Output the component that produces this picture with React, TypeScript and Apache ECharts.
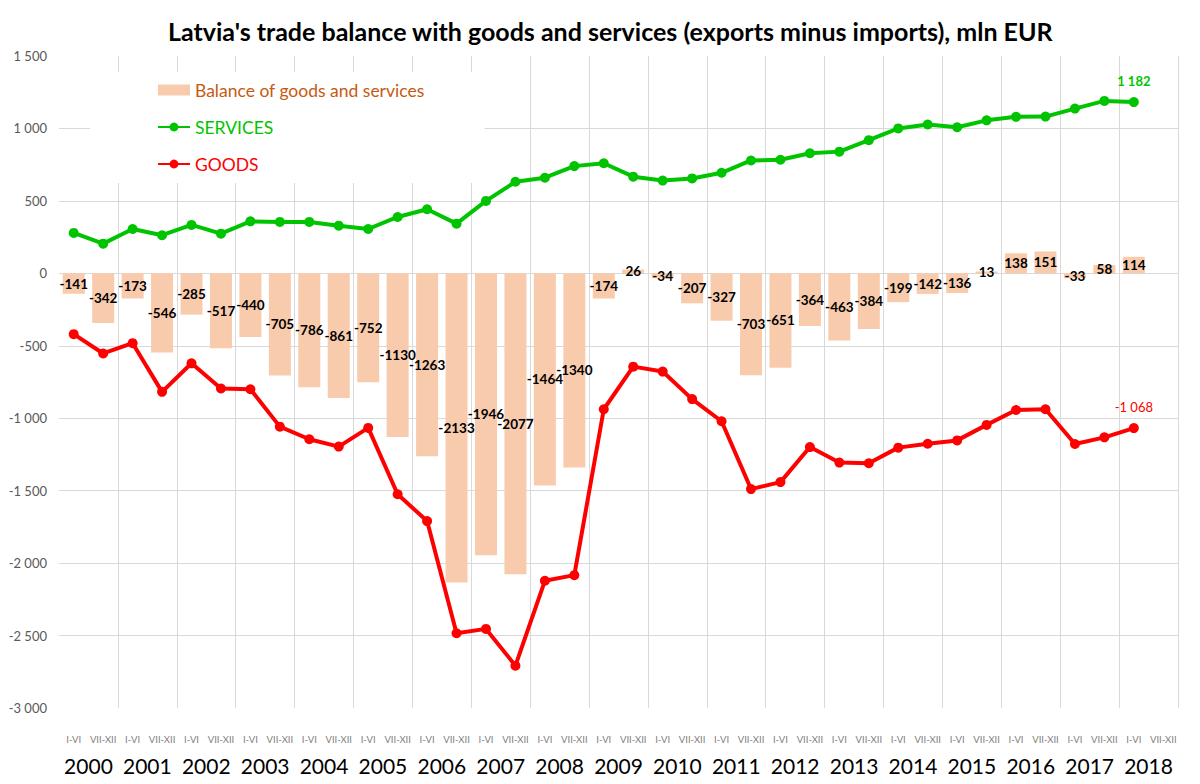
import React, { useEffect, useRef } from "react";
import * as echarts from "echarts";

const halfYears = [
  "I-VI", "VII-XII", "I-VI", "VII-XII", "I-VI", "VII-XII", "I-VI", "VII-XII",
  "I-VI", "VII-XII", "I-VI", "VII-XII", "I-VI", "VII-XII", "I-VI", "VII-XII",
  "I-VI", "VII-XII", "I-VI", "VII-XII", "I-VI", "VII-XII", "I-VI", "VII-XII",
  "I-VI", "VII-XII", "I-VI", "VII-XII", "I-VI", "VII-XII", "I-VI", "VII-XII",
  "I-VI", "VII-XII", "I-VI", "VII-XII", "I-VI", "VII-XII",
];

const years = [
  "2000", "2001", "2002", "2003", "2004", "2005", "2006", "2007", "2008", "2009",
  "2010", "2011", "2012", "2013", "2014", "2015", "2016", "2017", "2018",
];

const balance = [
  -141, -342, -173, -546, -285, -517, -440, -705, -786, -861,
  -752, -1130, -1263, -2133, -1946, -2077, -1464, -1340, -174, 26,
  -34, -207, -327, -703, -651, -364, -463, -384, -199, -142,
  -136, 13, 138, 151, -33, 58, 114,
];

const services = [
  279, 205, 306, 263, 334, 274, 359, 355, 355, 329,
  306, 389, 442, 343, 500, 632, 660, 740, 760, 667,
  640, 655, 694, 779, 784, 829, 840, 919, 1000, 1027,
  1008, 1056, 1080, 1082, 1137, 1190, 1182,
];

const goods = [
  -420, -553, -482, -818, -621, -795, -800, -1058, -1145, -1196,
  -1067, -1525, -1710, -2484, -2454, -2708, -2122, -2083, -938, -644,
  -678, -868, -1021, -1489, -1441, -1199, -1306, -1311, -1203, -1176,
  -1153, -1046, -943, -938, -1178, -1132, -1068,
];

const FONT = "Lato, 'Noto Sans', sans-serif";
const GREEN = "#00C400";
const RED = "#FF0000";
const BAR = "#F8CBAD";
const GRID = "#D9D9D9";

const fmt = (v: number) => String(v).replace(/\B(?=(\d{3})+(?!\d))/g, " ");

export default function App() {
  const ref = useRef<HTMLDivElement>(null);

  useEffect(() => {
    if (!ref.current) return;
    const chart = echarts.init(ref.current, null, { renderer: "svg" });

    const lastS = services.length - 1;
    const lastG = goods.length - 1;

    const ySplitColors = ["rgba(0,0,0,0)", GRID, GRID, GRID, GRID, GRID, GRID, GRID, GRID, "rgba(0,0,0,0)"];
    const xSplitColors = ["rgba(0,0,0,0)"].concat(new Array(years.length).fill(GRID));

    chart.setOption({
      animation: false,
      backgroundColor: "#ffffff",
      textStyle: { fontFamily: FONT },
      title: {
        text: "Latvia's trade balance with goods and services (exports minus imports), mln EUR",
        left: 163,
        top: 13,
        textStyle: { fontFamily: FONT, fontSize: 25, fontWeight: "bold", color: "#000000" },
      },
      legend: {
        orient: "vertical",
        left: 90,
        top: 72,
        padding: [9, 60, 10, 67],
        backgroundColor: "#ffffff",
        itemWidth: 32,
        itemHeight: 11,
        itemGap: 19,
        textStyle: { fontFamily: FONT, fontSize: 17.5, lineHeight: 18 },
        data: [
          { name: "Balance of goods and services", icon: "rect", textStyle: { color: "#C55A11" } },
          { name: "SERVICES", textStyle: { color: GREEN } },
          { name: "GOODS", textStyle: { color: RED } },
        ],
      },
      grid: { left: 59, right: 22, top: 56, bottom: 76, containLabel: false },
      xAxis: [
        {
          type: "category",
          data: halfYears,
          boundaryGap: true,
          position: "bottom",
          axisLine: { show: false },
          axisTick: { show: false },
          splitLine: { show: false },
          axisLabel: {
            interval: 0,
            margin: 26,
            fontFamily: FONT,
            fontSize: 9.5,
            color: "#808080",
          },
        },
        {
          type: "category",
          data: years,
          boundaryGap: true,
          position: "bottom",
          axisLine: { show: false },
          axisTick: { show: false },
          splitLine: { show: true, lineStyle: { color: xSplitColors, width: 1 } },
          axisLabel: {
            interval: 0,
            margin: 47,
            fontFamily: FONT,
            fontSize: 21,
            color: "#000000",
          },
        },
      ],
      yAxis: {
        type: "value",
        min: -3000,
        max: 1500,
        interval: 500,
        axisLine: { show: false },
        axisTick: { show: false },
        splitLine: { show: true, lineStyle: { color: ySplitColors, width: 1 } },
        axisLabel: {
          margin: 12,
          fontFamily: FONT,
          fontSize: 13,
          color: "#595959",
          formatter: (v: number) => fmt(v),
        },
      },
      series: [
        {
          name: "Balance of goods and services",
          type: "bar",
          xAxisIndex: 0,
          data: balance,
          barWidth: 22,
          itemStyle: { color: BAR },
          label: {
            show: true,
            position: "inside",
            color: "#000000",
            fontFamily: FONT,
            fontWeight: "bold",
            fontSize: 13.5,
            textBorderWidth: 0,
            formatter: "{c}",
          },
          z: 1,
        },
        {
          name: "SERVICES",
          type: "line",
          xAxisIndex: 0,
          data: services.map((v, i) =>
            i === lastS
              ? {
                  value: v,
                  label: {
                    show: true,
                    position: "top",
                    distance: 10,
                    color: GREEN,
                    fontFamily: FONT,
                    fontWeight: "bold",
                    fontSize: 13,
                    formatter: (p: any) => fmt(p.value),
                  },
                }
              : v
          ),
          symbol: "circle",
          symbolSize: 10,
          lineStyle: { color: GREEN, width: 4 },
          itemStyle: { color: GREEN },
          z: 3,
        },
        {
          name: "GOODS",
          type: "line",
          xAxisIndex: 0,
          data: goods.map((v, i) =>
            i === lastG
              ? {
                  value: v,
                  label: {
                    show: true,
                    position: "top",
                    distance: 10,
                    color: RED,
                    fontFamily: FONT,
                    fontSize: 13,
                    formatter: (p: any) => fmt(p.value),
                  },
                }
              : v
          ),
          symbol: "circle",
          symbolSize: 10,
          lineStyle: { color: RED, width: 4 },
          itemStyle: { color: RED },
          z: 3,
        },
      ],
    });

    return () => chart.dispose();
  }, []);

  return (
    <div
      ref={ref}
      style={{ position: "fixed", left: 0, top: 0, width: 1200, height: 784, background: "#fff" }}
    />
  );
}
